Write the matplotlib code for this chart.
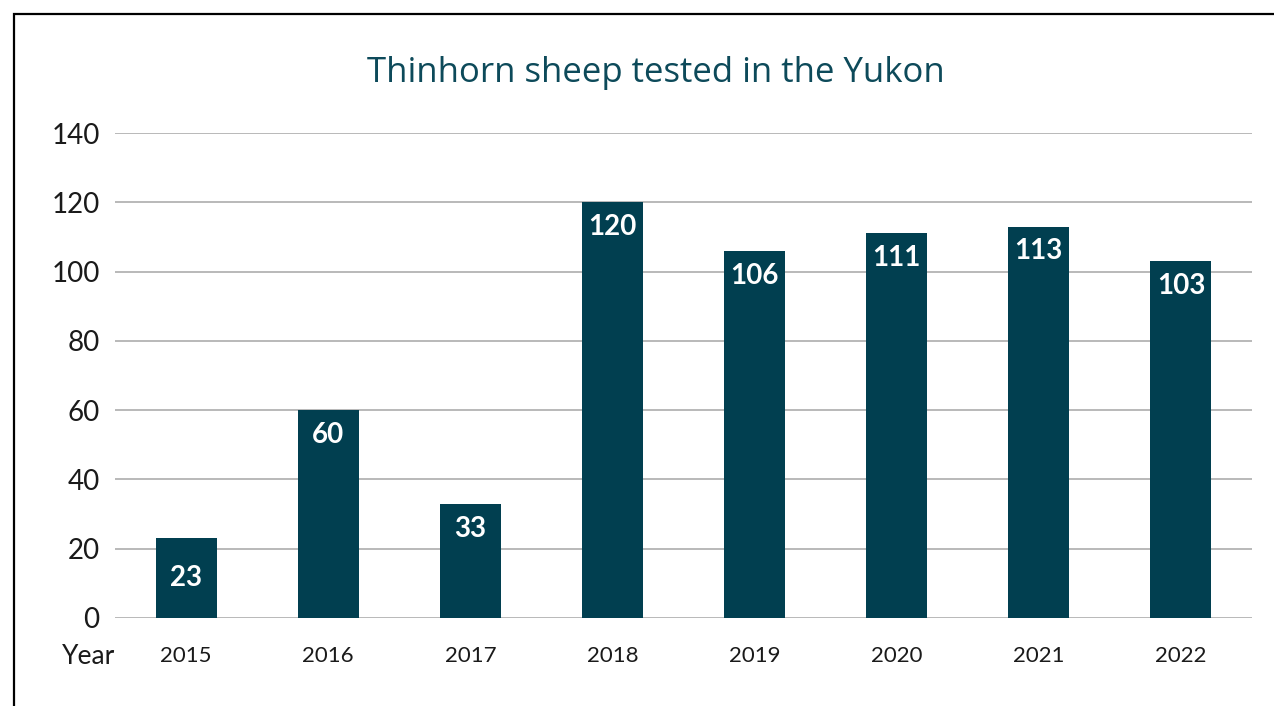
import matplotlib.pyplot as plt
from matplotlib.patches import Rectangle

plt.rcParams['font.family'] = ['Lato', 'DejaVu Sans']

# Sheep tested per year
years = ['2015', '2016', '2017', '2018', '2019', '2020', '2021', '2022']
tested = [23, 60, 33, 120, 106, 111, 113, 103]

BAR_COLOR = '#013f50'
TITLE_COLOR = '#0d4a5a'
GRID_COLOR = '#a6a6a6'

fig = plt.figure(figsize=(12.74, 7.06), dpi=100)
ax = fig.add_axes([115 / 1274, 88 / 706, 1137 / 1274, 485 / 706])

x = range(len(years))
ax.bar(x, tested, width=0.43, color=BAR_COLOR, zorder=3)

# value labels just under the top of each bar (centred on short bars)
for xi, v in zip(x, tested):
    ypos = v - 7.2 if v > 30 else v / 2
    ax.text(xi, ypos, str(v), ha='center', va='center',
            color='white', fontsize=20, fontweight='bold', zorder=4)

ax.set_xlim(-0.5, len(years) - 0.5)
ax.set_ylim(0, 140)
ax.set_yticks(range(0, 141, 20))
ax.set_xticks(list(x))
ax.set_xticklabels(years)
ax.tick_params(axis='y', length=0, labelsize=20, pad=11, labelcolor='#1a1a1a')
ax.tick_params(axis='x', length=0, labelsize=16, pad=20, labelcolor='#1a1a1a')
ax.grid(axis='y', color=GRID_COLOR, linewidth=1.1, zorder=0)
for s in ax.spines.values():
    s.set_visible(False)

ax.text(0.0, -0.08, 'Year', transform=ax.transAxes, ha='right', va='center',
        fontsize=19, color='#1a1a1a')

fig.text(656 / 1274, 1 - 73 / 706, 'Thinhorn sheep tested in the Yukon',
         ha='center', va='center', fontsize=25, color=TITLE_COLOR,
         family=['Open Sans', 'DejaVu Sans'])

# chart frame running off the right and bottom edges
fig.patches.append(Rectangle((14 / 1274, -0.2), 1.2, 1.2 - 14 / 706,
                             transform=fig.transFigure, fill=False,
                             edgecolor='black', linewidth=1.6))

fig.savefig('out.png', dpi=100)
